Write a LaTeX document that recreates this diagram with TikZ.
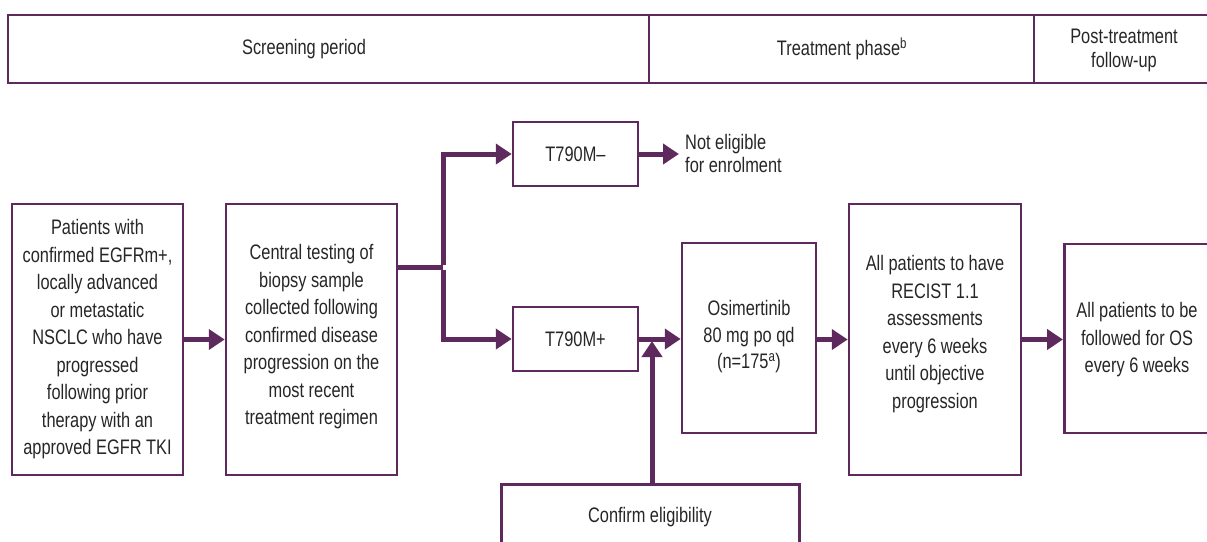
\documentclass[tikz,border=0pt]{standalone}
\usepackage{fontspec}
\setmainfont{Liberation Sans}[FakeStretch=0.78]
\usetikzlibrary{arrows.meta,calc}
\definecolor{plum}{RGB}{94,42,94}
\begin{document}
\begin{tikzpicture}[x=1pt,y=1pt,
  box/.style={draw=plum,line width=2.5pt,align=center,inner sep=0pt,font=\fontsize{21}{27.5}\selectfont,text=black!85},
  txt/.style={align=center,inner sep=0pt,font=\fontsize{21}{27.5}\selectfont,text=black!85},
  hdr/.style={draw=plum,line width=2.5pt,inner sep=0pt},
  arr/.style={draw=plum,line width=5pt,-{Triangle[length=16pt,width=20pt]}},
  link/.style={draw=plum,line width=5pt}]
\useasboundingbox (0,0) rectangle (1207,-541);
\clip (0,0) rectangle (1207,-541);
% header
\node[hdr,minimum width=641pt,minimum height=68pt] (scr) at (328.5,-49) {};
\node[hdr,minimum width=385pt,minimum height=68pt] (trt) at (841.5,-49) {};
\node[hdr,minimum width=250pt,minimum height=68pt] (post) at (1159,-49) {};
\node[txt,font=\fontsize{21}{24}\selectfont] (scrtxt) at (304,-49) {Screening period};
\node[txt,font=\fontsize{21}{24}\selectfont] (trttxt) at (842,-49) {Treatment phase\textsuperscript{b}};
\node[txt,font=\fontsize{21}{24}\selectfont] (posttxt) at (1124,-50) {Post-treatment\\follow-up};
% boxes
\node[box,minimum width=171pt,minimum height=271pt] (p1) at (97.5,-339.5) {Patients with\\confirmed EGFRm+,\\locally advanced\\or metastatic\\NSCLC who have\\progressed\\following prior\\therapy with an\\approved EGFR TKI};
\node[box,minimum width=171pt,minimum height=271pt] (p2) at (311.5,-339.5) {};
\node[txt] (p2txt) at (311.5,-337) {Central testing of\\biopsy sample\\collected following\\confirmed disease\\progression on the\\most recent\\treatment regimen};
\node[box,minimum width=125pt,minimum height=64pt] (tm) at (575.5,-154) {T790M--};
\node[box,minimum width=125pt,minimum height=64pt] (tp) at (575.5,-339) {T790M+};
\node[txt,anchor=west,align=left,font=\fontsize{21}{23}\selectfont] (ne) at (685,-153) {Not eligible\\for enrolment};
\node[box,minimum width=134pt,minimum height=190pt] (osi) at (749,-338) {};
\node[txt,font=\fontsize{21}{26.5}\selectfont] (ositxt) at (749,-337) {Osimertinib\\80 mg po qd\\(n=175\textsuperscript{a})};
\node[box,minimum width=172pt,minimum height=271pt] (rec) at (935,-339.5) {};
\node[txt] (rectxt) at (935,-334) {All patients to have\\RECIST 1.1\\assessments\\every 6 weeks\\until objective\\progression};
\node[box,minimum width=180pt,minimum height=189pt,anchor=west] (fol) at (1063,-338.5) {};
\node[txt] (foltxt) at (1137,-340) {All patients to be\\followed for OS\\every 6 weeks};
\node[box,minimum width=298pt,minimum height=100pt,anchor=north west] (conf) at (500,-483) {};
\node[txt] (conftxt) at (650,-517) {Confirm eligibility};
% connectors
\draw[arr] (p1.east) -- (p2.west);
\coordinate (br) at (443,-267);
\draw[link] (p2.east |- br) -- (br);
\draw[arr] ($(br)+(0,2.5)$) |- (tm.west);
\draw[arr] ($(br)-(0,2.5)$) |- (tp.west);
\coordinate (netip) at (679,-154);
\draw[arr] (tm.east) -- (netip);
\draw[arr] (tp.east) -- (osi.west |- tp.east);
\coordinate (jn) at (652,-341);
\draw[arr] (jn |- conf.north) -- (jn);
\draw[arr] (osi.east |- rec.east) -- (rec.west);
\draw[arr] (rec.east) -- (fol.west |- rec.east);
\end{tikzpicture}
\end{document}
